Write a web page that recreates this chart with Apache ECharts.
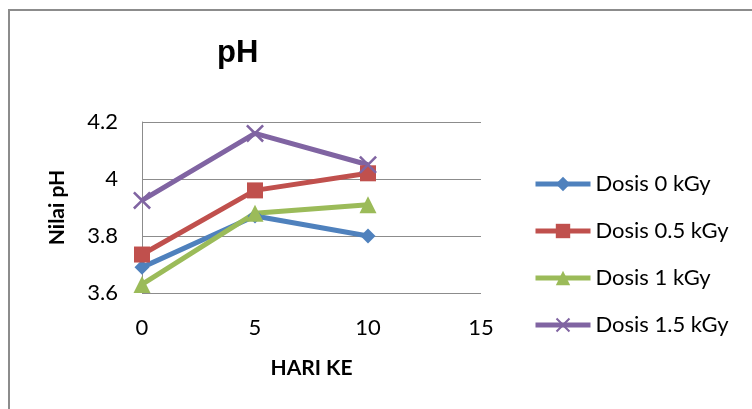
<!DOCTYPE html>
<html>
<head>
<meta charset="utf-8">
<script src="https://cdn.jsdelivr.net/npm/echarts@6/dist/echarts.min.js"></script>
<style>
  html, body { margin: 0; padding: 0; background: #fff; }
  #box { width: 752px; height: 409px; }
</style>
</head>
<body>
<div id="box"></div>
<script>
// hari ke (x) and pH readings per dose
const days = [0, 5, 10];
const dosis0 = [3.69, 3.87, 3.80];
const dosis05 = [3.735, 3.96, 4.02];
const dosis1 = [3.63, 3.88, 3.91];
const dosis15 = [3.925, 4.16, 4.05];
const names = ['Dosis 0 kGy', 'Dosis 0.5 kGy', 'Dosis 1 kGy', 'Dosis 1.5 kGy'];

const colors = ['#4F81BD', '#C0504D', '#9BBB59', '#8064A2'];
const crossPath = 'path://M0,1L1,0L5,4L9,0L10,1L6,5L10,9L9,10L5,6L1,10L0,9L4,5Z';
const symbols = [['diamond', 15], ['rect', 16], ['triangle', 17], [crossPath, 18]];

const pair = vals => days.map((d, i) => [d, vals[i]]);
const seriesData = [dosis0, dosis05, dosis1, dosis15];

const chart = echarts.init(document.getElementById('box'));
const font = 'Lato, "Open Sans", sans-serif';

chart.setOption({
  animation: false,
  backgroundColor: '#fff',
  graphic: [{
    type: 'rect',
    shape: { x: 9, y: 10, width: 800, height: 450 },
    style: { fill: 'none', stroke: '#8c8c8c', lineWidth: 2 }
  }],
  title: {
    text: 'pH',
    left: 212,
    top: 33,
    textStyle: { fontFamily: '"Liberation Sans", Arial, sans-serif', fontWeight: 'bold', fontSize: 31, color: '#000' }
  },
  legend: {
    orient: 'vertical',
    left: 528,
    top: 168,
    itemWidth: 55,
    itemHeight: 18,
    itemGap: 25,
    lineStyle: { width: 5 },
    textStyle: { fontFamily: font, fontSize: 22, color: '#000' },
    data: names
  },
  grid: { left: 142, top: 122, width: 339, height: 171 },
  xAxis: {
    type: 'value',
    min: 0, max: 15, interval: 5,
    name: 'HARI KE',
    nameLocation: 'middle',
    nameGap: 65,
    nameTextStyle: { fontFamily: font, fontWeight: 'bold', fontSize: 21, color: '#000' },
    axisLine: { show: false },
    axisTick: { show: false },
    splitLine: { show: false },
    axisLabel: { fontFamily: font, fontSize: 22, color: '#000', margin: 24 }
  },
  yAxis: {
    type: 'value',
    min: 3.6, max: 4.2, interval: 0.2,
    name: 'Nilai pH',
    nameLocation: 'middle',
    nameGap: 74,
    nameTextStyle: { fontFamily: font, fontWeight: 'bold', fontSize: 21, color: '#000' },
    axisLine: { show: true, lineStyle: { color: '#8c8c8c', width: 1 } },
    axisTick: { show: false },
    splitLine: { lineStyle: { color: '#8c8c8c', width: 1 } },
    axisLabel: { fontFamily: font, fontSize: 22, color: '#000', margin: 24 }
  },
  series: seriesData.map((vals, i) => ({
    name: names[i],
    type: 'line',
    data: pair(vals),
    symbol: symbols[i][0],
    symbolSize: symbols[i][1],
    showAllSymbol: true,
    lineStyle: { color: colors[i], width: 5 },
    itemStyle: { color: colors[i] }
  }))
});
</script>
</body>
</html>
